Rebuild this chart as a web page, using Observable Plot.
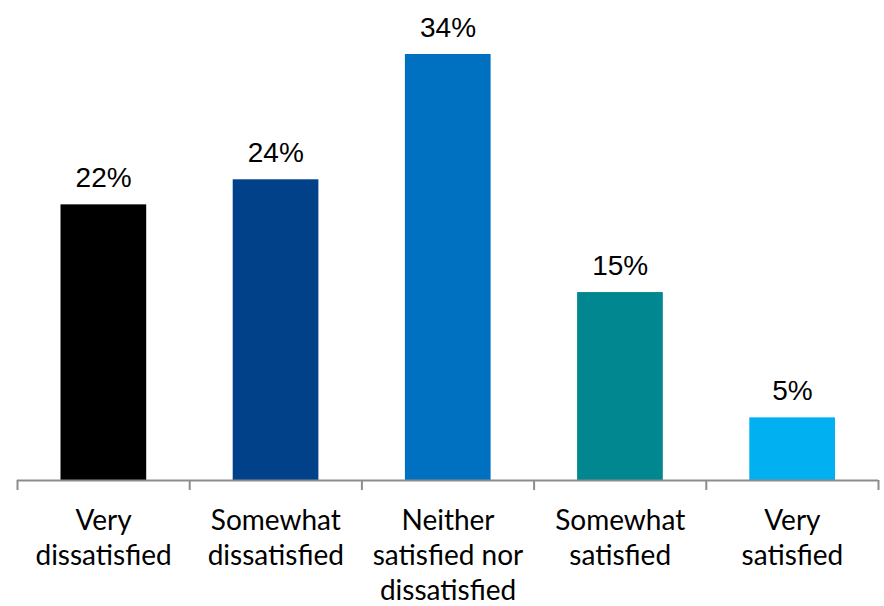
<!DOCTYPE html>
<html>
<head>
<meta charset="utf-8">
<script src="https://cdn.jsdelivr.net/npm/d3@7"></script>
<script src="https://cdn.jsdelivr.net/npm/@observablehq/plot@0.6"></script>
<style>
  html, body { margin: 0; padding: 0; background: #fff; }
  #chart svg { display: block; }
</style>
</head>
<body>
<div id="chart"></div>
<script>
const categories = ["Very\ndissatisfied", "Somewhat\ndissatisfied", "Neither\nsatisfied nor\ndissatisfied", "Somewhat\nsatisfied", "Very\nsatisfied"];
const values = [22, 24, 34, 15, 5];
const colors = ["#000000", "#00418a", "#0070c0", "#00878f", "#00b0f0"];
const valueLabels = ["22%", "24%", "34%", "15%", "5%"];

const data = categories.map((c, i) => ({i, category: c, value: values[i], color: colors[i], label: valueLabels[i]}));
const boundaries = d3.range(categories.length + 1);

const chart = Plot.plot({
  width: 884,
  height: 606,
  marginLeft: 17,
  marginRight: 6,
  marginTop: 54,
  marginBottom: 126,
  x: {type: "linear", domain: [0, categories.length]},
  y: {domain: [0, 34], axis: null},
  marks: [
    Plot.rectY(data, {x1: d => d.i, x2: d => d.i + 1, y: "value", fill: "color", insetLeft: 43.5, insetRight: 43}),
    Plot.axisX({ticks: boundaries, tickSize: 10, tickFormat: () => "", stroke: "#8c8c8c", strokeWidth: 2, label: null}),
    Plot.ruleY([0], {stroke: "#8c8c8c", strokeWidth: 2}),
    Plot.text(data, {x: d => d.i + 0.5, y: "value", text: "label", lineAnchor: "bottom", dy: -18, fontSize: 28, fontFamily: "Liberation Sans, Arial, sans-serif", fill: "#000"}),
    Plot.text(data, {x: d => d.i + 0.5, y: 0, text: "category", lineAnchor: "top", dy: 25, fontSize: 28, lineHeight: 1.25, fontFamily: "Lato, sans-serif", fill: "#000"})
  ]
});
document.getElementById("chart").appendChild(chart);
</script>
</body>
</html>
